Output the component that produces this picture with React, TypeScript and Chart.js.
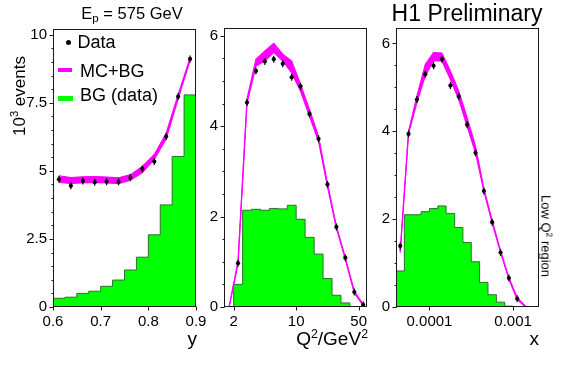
import React, { useEffect, useRef } from "react";
import { Chart, registerables } from "chart.js";

Chart.register(...registerables);

const W = 567;
const H = 369;
const FONT = "'Liberation Sans', Arial, Helvetica, sans-serif";
const GREEN = "#00ff00";
const GREEN_EDGE = "#2f6f2f";
const MAGENTA = "#ff00ff";

// ---------- Panel 1 : y ----------
const yEdges = [0.6, 0.625, 0.65, 0.675, 0.7, 0.725, 0.75, 0.775, 0.8, 0.825, 0.85, 0.875, 0.9];
const yBg = [0.32, 0.36, 0.5, 0.58, 0.76, 0.99, 1.36, 1.83, 2.65, 3.75, 5.53, 7.79];
const yCenters = [0.6125, 0.6375, 0.6625, 0.6875, 0.7125, 0.7375, 0.7625, 0.7875, 0.8125, 0.8375, 0.8625, 0.8875];
const yData = [4.69, 4.45, 4.63, 4.58, 4.6, 4.6, 4.75, 5.07, 5.34, 6.26, 7.73, 9.11];
const yMcHigh = [4.82, 4.75, 4.78, 4.79, 4.77, 4.74, 4.86, 5.16, 5.6, 6.38, 7.8, 9.15];
const yMcLow = [4.58, 4.54, 4.56, 4.58, 4.56, 4.53, 4.66, 4.94, 5.42, 6.18, 7.65, 9.05];
const yXTicks = [0.6, 0.7, 0.8, 0.9];
const yXLabels = ["0.6", "0.7", "0.8", "0.9"];
const yYTicks = [0, 2.5, 5, 7.5, 10];
const yYLabels = ["0", "2.5", "5", "7.5", "10"];

// ---------- Panel 2 : Q2 ----------
const qEdges = [2, 2.52, 3.17, 3.99, 5.02, 6.32, 7.96, 10.0, 12.6, 15.9, 20.0, 25.2, 31.7, 39.9];
const qBg = [0.5, 2.14, 2.16, 2.14, 2.18, 2.17, 2.25, 1.94, 1.54, 1.17, 0.63, 0.26, 0.09];
const qDataX = [2.24, 2.82, 3.55, 4.47, 5.62, 7.08, 8.91, 11.2, 14.1, 17.8, 22.4, 28.2, 35.5, 44.7, 56.2];
const qData = [0.97, 4.52, 5.22, 5.43, 5.48, 5.38, 5.08, 4.88, 4.27, 3.72, 2.71, 1.77, 1.09, 0.33, 0.05];
const qMcX = [1.78, 2.24, 2.82, 3.55, 4.47, 5.62, 7.08, 8.91, 11.2, 14.1, 17.8, 22.4, 28.2, 35.5, 44.7, 56.2];
const qMcHigh = [0.0, 1.02, 4.6, 5.48, 5.66, 5.83, 5.59, 5.44, 4.92, 4.37, 3.77, 2.74, 1.79, 1.09, 0.35, 0.06];
const qMcLow = [0.0, 0.96, 4.5, 5.33, 5.44, 5.63, 5.44, 5.18, 4.77, 4.22, 3.66, 2.66, 1.74, 1.05, 0.31, 0.03];
const qXTicks = [2, 10, 50];
const qXLabels = ["2", "10", "50"];
const qYTicks = [0, 2, 4, 6];
const qYLabels = ["0", "2", "4", "6"];

// ---------- Panel 3 : x ----------
const xEdges = [3.98e-5, 5.01e-5, 6.31e-5, 7.94e-5, 1.0e-4, 1.26e-4, 1.58e-4, 2.0e-4, 2.51e-4, 3.16e-4, 3.98e-4, 5.01e-4, 6.31e-4, 7.94e-4, 1.0e-3];
const xBg = [0.82, 2.1, 2.1, 2.17, 2.24, 2.3, 2.13, 1.81, 1.47, 1.03, 0.56, 0.28, 0.11, 0.02];
const xDataX = [4.47e-5, 5.62e-5, 7.08e-5, 8.91e-5, 1.12e-4, 1.41e-4, 1.78e-4, 2.24e-4, 2.82e-4, 3.55e-4, 4.47e-4, 5.62e-4, 7.08e-4, 8.91e-4, 1.12e-3];
const xData = [1.39, 3.94, 4.72, 5.3, 5.49, 5.64, 5.04, 4.79, 4.15, 3.51, 2.64, 1.93, 1.24, 0.66, 0.19];
const xMcX = [4.47e-5, 5.62e-5, 7.08e-5, 8.91e-5, 1.12e-4, 1.41e-4, 1.78e-4, 2.24e-4, 2.82e-4, 3.55e-4, 4.47e-4, 5.62e-4, 7.08e-4, 8.91e-4, 1.12e-3, 1.41e-3];
const xMcHigh = [1.28, 4.0, 4.8, 5.52, 5.79, 5.78, 5.37, 4.91, 4.31, 3.66, 2.7, 1.97, 1.28, 0.67, 0.21, 0.02];
const xMcLow = [1.24, 3.94, 4.65, 5.26, 5.6, 5.6, 5.18, 4.72, 4.11, 3.51, 2.64, 1.91, 1.24, 0.63, 0.17, 0.0];
const xXTicks = [1e-4, 1e-3];
const xXLabels = ["0.0001", "0.001"];
const xYTicks = [0, 2, 4, 6];
const xYLabels = ["0", "2", "4", "6"];

type PanelSpec = {
  area: { l: number; t: number; r: number; b: number };
  xType: "linear" | "logarithmic";
  xMin: number;
  xMax: number;
  xTicks: number[];
  xLabels: string[];
  yMax: number;
  yTicks: number[];
  yLabels: string[];
  yMinorStep: number;
  edges: number[];
  bg: number[];
  mcX: number[];
  mcHigh: number[];
  mcLow: number[];
  dataX: number[];
  data: number[];
};

const Y_AXIS_W = 40;
const X_AXIS_H = 30;

const framePlugin = {
  id: "frame",
  afterDraw(chart: any, _args: any, opts: any) {
    const { ctx, chartArea: a } = chart;
    const xs = chart.scales.x;
    const ys = chart.scales.y;
    ctx.save();
    ctx.strokeStyle = "#1a1a1a";
    ctx.lineWidth = 1;
    const L = Math.round(a.left) + 0.5;
    const T = Math.round(a.top) + 0.5;
    const R = Math.round(a.right) - 0.5;
    const B = Math.round(a.bottom) - 0.5;
    ctx.strokeRect(L, T, R - L, B - T);
    ctx.beginPath();
    for (const v of opts.yTicks as number[]) {
      const p = Math.round(ys.getPixelForValue(v)) + 0.5;
      ctx.moveTo(L - 4, p);
      ctx.lineTo(L, p);
    }
    const step = opts.yMinorStep as number;
    for (let v = 0; v <= ys.max + 1e-9; v += step) {
      const p = Math.round(ys.getPixelForValue(v)) + 0.5;
      ctx.moveTo(L - 2, p);
      ctx.lineTo(L, p);
    }
    for (const v of opts.xTicks as number[]) {
      const p = Math.round(xs.getPixelForValue(v)) + 0.5;
      ctx.moveTo(p, B);
      ctx.lineTo(p, B + 4);
    }
    ctx.stroke();
    ctx.restore();
  },
};

function histPoints(edges: number[], vals: number[]) {
  const pts: { x: number; y: number }[] = [{ x: edges[0], y: 0 }];
  vals.forEach((v, i) => pts.push({ x: edges[i], y: v }));
  pts.push({ x: edges[edges.length - 1], y: vals[vals.length - 1] });
  pts.push({ x: edges[edges.length - 1], y: 0 });
  return pts;
}

function zip(xs: number[], ys: number[]) {
  return xs.map((x, i) => ({ x, y: ys[i] }));
}

function makeConfig(p: PanelSpec): any {
  const { l, t, r, b } = p.area;
  return {
    type: "scatter",
    data: {
      datasets: [
        {
          label: "BG (data)",
          data: histPoints(p.edges, p.bg),
          showLine: true,
          stepped: "before",
          borderColor: GREEN_EDGE,
          borderWidth: 1,
          backgroundColor: GREEN,
          fill: "origin",
          pointRadius: 0,
          order: 5,
        },
        {
          label: "MC+BG high",
          data: zip(p.mcX, p.mcHigh),
          showLine: true,
          borderColor: MAGENTA,
          borderWidth: 1.2,
          backgroundColor: MAGENTA,
          fill: false,
          pointRadius: 0,
          order: 3,
        },
        {
          label: "MC+BG low",
          data: zip(p.mcX, p.mcLow),
          showLine: true,
          borderColor: MAGENTA,
          borderWidth: 1.2,
          backgroundColor: MAGENTA,
          fill: "-1",
          pointRadius: 0,
          order: 3,
        },
        {
          label: "Data err",
          data: zip(p.dataX, p.data),
          pointStyle: "line",
          rotation: 90,
          pointRadius: 3.5,
          borderColor: "#000",
          pointBorderColor: "#000",
          pointBorderWidth: 1.2,
          order: 1,
        },
        {
          label: "Data",
          data: zip(p.dataX, p.data),
          pointStyle: "circle",
          pointRadius: 2.1,
          pointBackgroundColor: "#000",
          pointBorderWidth: 0,
          order: 0,
        },
      ],
    },
    options: {
      responsive: false,
      animation: false,
      events: [],
      layout: {
        padding: {
          left: l - Y_AXIS_W,
          top: t,
          right: W - r,
          bottom: H - b - X_AXIS_H,
        },
      },
      plugins: {
        legend: { display: false },
        tooltip: { enabled: false },
        frame: { yTicks: p.yTicks, xTicks: p.xTicks, yMinorStep: p.yMinorStep },
      },
      scales: {
        x: {
          type: p.xType,
          min: p.xMin,
          max: p.xMax,
          grid: { display: false, drawTicks: false },
          border: { display: false },
          afterFit: (s: any) => {
            s.height = X_AXIS_H;
          },
          afterBuildTicks: (s: any) => {
            s.ticks = p.xTicks.map((v) => ({ value: v }));
          },
          ticks: {
            autoSkip: false,
            maxRotation: 0,
            padding: 6,
            color: "#000",
            font: { family: FONT, size: 15 },
            callback: (_v: any, i: number) => p.xLabels[i],
          },
        },
        y: {
          type: "linear",
          min: 0,
          max: p.yMax,
          grid: { display: false, drawTicks: false },
          border: { display: false },
          afterFit: (s: any) => {
            s.width = Y_AXIS_W;
          },
          afterBuildTicks: (s: any) => {
            s.ticks = p.yTicks.map((v) => ({ value: v }));
          },
          ticks: {
            autoSkip: false,
            padding: 6,
            color: "#000",
            font: { family: FONT, size: 15 },
            callback: (_v: any, i: number) => p.yLabels[i],
          },
        },
      },
    },
    plugins: [framePlugin],
  };
}

const panels: PanelSpec[] = [
  {
    area: { l: 53, t: 29, r: 196, b: 307 },
    xType: "linear",
    xMin: 0.6,
    xMax: 0.9,
    xTicks: yXTicks,
    xLabels: yXLabels,
    yMax: 10.21,
    yTicks: yYTicks,
    yLabels: yYLabels,
    yMinorStep: 0.5,
    edges: yEdges,
    bg: yBg,
    mcX: yCenters,
    mcHigh: yMcHigh,
    mcLow: yMcLow,
    dataX: yCenters,
    data: yData,
  },
  {
    area: { l: 224, t: 28, r: 367, b: 307 },
    xType: "logarithmic",
    xMin: 1.56,
    xMax: 62,
    xTicks: qXTicks,
    xLabels: qXLabels,
    yMax: 6.17,
    yTicks: qYTicks,
    yLabels: qYLabels,
    yMinorStep: 0.5,
    edges: qEdges,
    bg: qBg,
    mcX: qMcX,
    mcHigh: qMcHigh,
    mcLow: qMcLow,
    dataX: qDataX,
    data: qData,
  },
  {
    area: { l: 396, t: 28, r: 539, b: 307 },
    xType: "logarithmic",
    xMin: 3.98e-5,
    xMax: 2.04e-3,
    xTicks: xXTicks,
    xLabels: xXLabels,
    yMax: 6.35,
    yTicks: xYTicks,
    yLabels: xYLabels,
    yMinorStep: 0.5,
    edges: xEdges,
    bg: xBg,
    mcX: xMcX,
    mcHigh: xMcHigh,
    mcLow: xMcLow,
    dataX: xDataX,
    data: xData,
  },
];

function Panel({ spec }: { spec: PanelSpec }) {
  const ref = useRef<HTMLCanvasElement>(null);
  useEffect(() => {
    const chart = new Chart(ref.current as HTMLCanvasElement, makeConfig(spec));
    return () => chart.destroy();
  }, [spec]);
  return (
    <canvas
      ref={ref}
      width={W}
      height={H}
      style={{ position: "absolute", left: 0, top: 0, width: W, height: H }}
    />
  );
}

function Text({
  x,
  y,
  size,
  rotate = 0,
  children,
}: {
  x: number;
  y: number;
  size: number;
  rotate?: number;
  children: React.ReactNode;
}) {
  return (
    <div
      style={{
        position: "absolute",
        left: x,
        top: y,
        transform: `translate(-50%, -50%) rotate(${rotate}deg)`,
        fontFamily: FONT,
        fontSize: size,
        lineHeight: 1,
        whiteSpace: "nowrap",
        color: "#000",
      }}
    >
      {children}
    </div>
  );
}

function BaseText({
  left,
  right,
  baseline,
  size,
  children,
}: {
  left?: number;
  right?: number;
  baseline: number;
  size: number;
  children: React.ReactNode;
}) {
  const style: React.CSSProperties = {
    position: "absolute",
    top: baseline - 0.8465 * size,
    fontFamily: FONT,
    fontSize: size,
    lineHeight: 1,
    whiteSpace: "nowrap",
    color: "#000",
  };
  if (left !== undefined) style.left = left;
  if (right !== undefined) style.right = W - right;
  return <div style={style}>{children}</div>;
}

const sup: React.CSSProperties = { fontSize: "0.65em", verticalAlign: "0.55em", lineHeight: 0 };
const sub: React.CSSProperties = { fontSize: "0.7em", verticalAlign: "-0.3em", lineHeight: 0 };

export default function App() {
  return (
    <div
      style={{
        position: "absolute",
        left: 0,
        top: 0,
        width: W,
        height: H,
        background: "#fff",
        overflow: "hidden",
      }}
    >
      {panels.map((s, i) => (
        <Panel key={i} spec={s} />
      ))}

      <Text x={132} y={12.5} size={16.5}>
        E<span style={sub}>p</span> = 575 GeV
      </Text>
      <Text x={467} y={12.8} size={23}>
        H1 Preliminary
      </Text>
      <Text x={18.5} y={96} size={17} rotate={-90}>
        10<span style={sup}>3</span> events
      </Text>
      <Text x={546} y={235.5} size={13} rotate={90}>
        Low Q<span style={sup}>2</span> region
      </Text>

      <BaseText right={197} baseline={345.5} size={19}>
        y
      </BaseText>
      <BaseText right={368} baseline={345.5} size={19}>
        Q<span style={sup}>2</span>/GeV<span style={sup}>2</span>
      </BaseText>
      <BaseText right={539} baseline={345.5} size={19}>
        x
      </BaseText>

      {/* legend */}
      <div
        style={{
          position: "absolute",
          left: 65.5,
          top: 40.2,
          width: 5,
          height: 5,
          borderRadius: "50%",
          background: "#000",
        }}
      />
      <BaseText left={77.5} baseline={48.7} size={18}>
        Data
      </BaseText>
      <div style={{ position: "absolute", left: 58, top: 68, width: 14, height: 4, background: MAGENTA }} />
      <BaseText left={80} baseline={77.3} size={18}>
        MC+BG
      </BaseText>
      <div style={{ position: "absolute", left: 58, top: 95.5, width: 15, height: 5, background: GREEN }} />
      <BaseText left={80} baseline={101.7} size={18}>
        BG (data)
      </BaseText>
    </div>
  );
}
